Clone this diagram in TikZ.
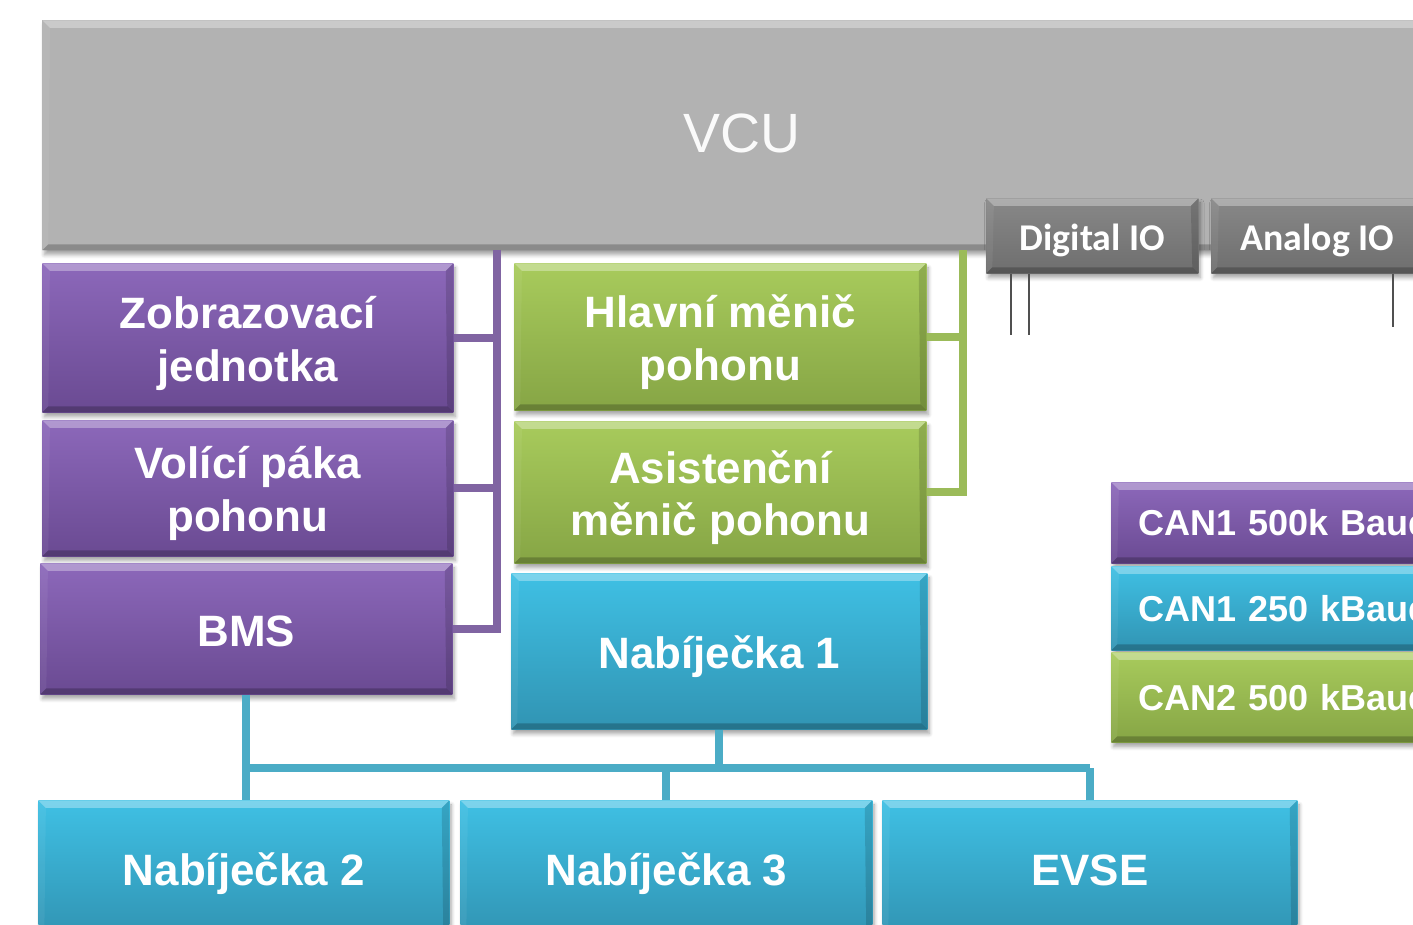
\documentclass[tikz,border=0pt]{standalone}
\usepackage{fontspec}
\setmainfont{Liberation Sans}
\newfontfamily\iofont{Carlito}
\usetikzlibrary{shadows.blur}

% face colours (top / bottom of each gradient) and bus colours
\definecolor{pTop}{HTML}{8C68BA}
\definecolor{pBot}{HTML}{6A4A92}
\definecolor{gTop}{HTML}{A8CB5C}
\definecolor{gBot}{HTML}{86A545}
\definecolor{cTop}{HTML}{3FC0E4}
\definecolor{cBot}{HTML}{3194B3}
\definecolor{vcuGray}{HTML}{B2B2B2}
\definecolor{ioTop}{HTML}{888888}
\definecolor{ioBot}{HTML}{6E6E6E}
\definecolor{pBus}{HTML}{8064A2}
\definecolor{gBus}{HTML}{9BBB59}
\definecolor{cBus}{HTML}{4BACC6}
\definecolor{ioLine}{HTML}{505050}

% bevelled edges drawn inside every box
\newcommand\bevelfaces{%
  \fill[white,opacity=0.32]
    (path picture bounding box.north west) -- (path picture bounding box.north east)
    -- ([shift={(-0.15cm,-0.15cm)}]path picture bounding box.north east)
    -- ([shift={(0.15cm,-0.15cm)}]path picture bounding box.north west) -- cycle;
  \fill[black,opacity=0.22]
    (path picture bounding box.south west) -- (path picture bounding box.south east)
    -- ([shift={(-0.12cm,0.12cm)}]path picture bounding box.south east)
    -- ([shift={(0.12cm,0.12cm)}]path picture bounding box.south west) -- cycle;
  \fill[white,opacity=0.06]
    (path picture bounding box.north west) -- (path picture bounding box.south west)
    -- ([shift={(0.12cm,0.12cm)}]path picture bounding box.south west)
    -- ([shift={(0.15cm,-0.15cm)}]path picture bounding box.north west) -- cycle;
  \fill[black,opacity=0.14]
    (path picture bounding box.north east) -- (path picture bounding box.south east)
    -- ([shift={(-0.12cm,0.12cm)}]path picture bounding box.south east)
    -- ([shift={(-0.15cm,-0.15cm)}]path picture bounding box.north east) -- cycle;
}

\tikzset{
  boxbase/.style={rectangle, inner sep=0pt, anchor=north west, text=white,
    align=center, font=\bfseries\fontsize{25}{30}\selectfont,
    blur shadow={shadow xshift=0.04cm, shadow yshift=-0.09cm,
      shadow blur steps=6, shadow opacity=35},
    path picture={\bevelfaces}},
  pbox/.style={boxbase, top color=pTop, bottom color=pBot},
  gbox/.style={boxbase, top color=gTop, bottom color=gBot},
  cbox/.style={boxbase, top color=cTop, bottom color=cBot},
  iobox/.style={boxbase, top color=ioTop, bottom color=ioBot},
  % centred caption of a box, set slightly below the middle
  txt/.style={text=white, align=center, inner sep=0pt, yshift=-3pt,
    font=\bfseries\fontsize{25}{30}\selectfont},
  iotxt/.style={txt, yshift=0.3pt, font=\iofont\bfseries\fontsize{21.5}{26}\selectfont},
  tx/.style={label={[txt]center:{#1}}},
  iotx/.style={label={[iotxt]center:{#1}}},
  canbox/.style={inner xsep=0.54cm, text width=6.66cm, align=left,
    font=\bfseries\fontsize{20.5}{24}\selectfont},
  bus/.style={line width=4.5pt},
  pbusline/.style={bus, draw=pBus},
  gbusline/.style={bus, draw=gBus},
  cbusline/.style={bus, draw=cBus},
  ioline/.style={draw=ioLine, line width=1.1pt},
}

\begin{document}
\begin{tikzpicture}[x=0.02cm, y=-0.02cm]
\useasboundingbox (0,0) rectangle (1413,925);
\clip (0,0) rectangle (1413,925);

% controller
\node[boxbase, fill=vcuGray, minimum width=28cm, minimum height=4.6cm,
      label={[txt, yshift=3.8pt, font=\fontsize{31.5}{36}\selectfont, text=white!96!gray]center:VCU}]
      (vcu) at (42,20) {};
\node[iobox, minimum width=4.24cm, minimum height=1.5cm, iotx={Digital IO}] (dio) at (986,198) {};
\node[iobox, minimum width=4.24cm, minimum height=1.5cm, iotx={Analog IO}] (aio) at (1211,198) {};

% CAN1 500k devices
\node[pbox, minimum width=8.22cm, minimum height=2.98cm, tx={Zobrazovací\\jednotka}] (zob) at (42,263) {};
\node[pbox, minimum width=8.22cm, minimum height=2.72cm, tx={Volící páka\\pohonu}] (vol) at (42,420) {};
\node[pbox, minimum width=8.24cm, minimum height=2.62cm,
      label={[txt, yshift=1.5pt]center:BMS}] (bms) at (40,563) {};

% CAN2 devices
\node[gbox, minimum width=8.24cm, minimum height=2.94cm, tx={Hlavní měnič\\pohonu}] (hla) at (514,263) {};
\node[gbox, minimum width=8.24cm, minimum height=2.84cm, tx={Asistenční\\měnič pohonu}] (asi) at (514,421) {};

% CAN1 250k devices
\node[cbox, minimum width=8.32cm, minimum height=3.12cm, tx={Nabíječka 1}] (nab1) at (511,573) {};
\node[cbox, minimum width=8.22cm, minimum height=2.72cm, tx={Nabíječka 2}] (nab2) at (38,800) {};
\node[cbox, minimum width=8.24cm, minimum height=2.72cm, tx={Nabíječka 3}] (nab3) at (460,800) {};
\node[cbox, minimum width=8.30cm, minimum height=2.72cm,
      label={[txt, yshift=2pt]center:EVSE}] (evse) at (882,800) {};

% legend
\node[pbox, canbox, minimum height=1.62cm] (leg1) at (1111,482) {CAN1 500k Baud};
\node[cbox, canbox, minimum height=1.68cm] (leg2) at (1111,566) {CAN1 250 kBaud};
\node[gbox, canbox, minimum height=1.80cm] (leg3) at (1111,652) {CAN2 500 kBaud};

% bus tap points
\coordinate (pb) at (497,250);
\coordinate (gb) at (963,250);
\coordinate (cb) at (720,768);

% CAN1 500k bus
\draw[pbusline] (pb) |- (bms.east);
\draw[pbusline] (zob.east) -- (zob.east -| pb);
\draw[pbusline] (vol.east) -- (vol.east -| pb);

% CAN2 bus
\draw[gbusline] (gb) |- (asi.east);
\draw[gbusline] (hla.east) -- (hla.east -| gb);

% CAN1 250k bus
\draw[cbusline] (nab1.south) -- (nab1.south |- cb);
\draw[cbusline] (bms.south |- cb) -- (evse.north |- cb);
\draw[cbusline] (bms.south) -- (bms.south |- nab2.north);
\draw[cbusline] (nab3.north) -- (nab3.north |- cb);
\draw[cbusline] (evse.north) -- (evse.north |- cb);

% I/O wires
\coordinate (d1) at (1011,335);
\coordinate (d2) at (1029,335);
\coordinate (a1) at (1393,327);
\draw[ioline] (d1 |- dio.south) -- (d1);
\draw[ioline] (d2 |- dio.south) -- (d2);
\draw[ioline] (a1 |- aio.south) -- (a1);
\end{tikzpicture}
\end{document}
